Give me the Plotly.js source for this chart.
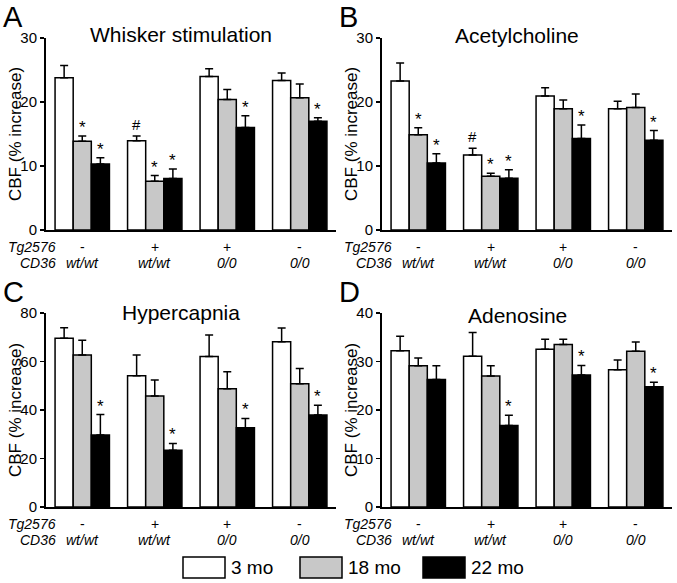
<!DOCTYPE html>
<html>
<head>
<meta charset="utf-8">
<script src="https://cdn.plot.ly/plotly-3.0.1.min.js"></script>
<style>html,body{margin:0;padding:0;background:#fff}#chart{width:677px;height:583px}</style>
</head>
<body>
<div id="chart"></div>
<script>
// ---- data ----
const tg2576 = ["-", "+", "+", "-"];
const cd36 = ["wt/wt", "wt/wt", "0/0", "0/0"];
const ages = ["3 mo", "18 mo", "22 mo"];
const panelTitles = ["Whisker stimulation", "Acetylcholine", "Hypercapnia", "Adenosine"];
const panelLetters = ["A", "B", "C", "D"];

// means: [3 mo, 18 mo, 22 mo] x groups
const whiskerMean = [[23.8, 13.95, 24.0, 23.35], [13.85, 7.6, 20.4, 20.65], [10.3, 8.05, 16.0, 17.0]];
const whiskerErr  = [[1.9, 0.75, 1.2, 1.2], [0.85, 0.9, 1.55, 2.15], [1.0, 1.5, 1.85, 0.55]];
const whiskerSig  = [["", "#", "", ""], ["*", "*", "", ""], ["*", "*", "*", "*"]];

const achMean = [[23.3, 11.73, 20.94, 18.95], [14.87, 8.38, 18.95, 19.16], [10.47, 8.1, 14.29, 14.03]];
const achErr  = [[2.8, 1.05, 1.3, 1.15], [1.1, 0.5, 1.35, 2.1], [1.45, 1.3, 2.1, 1.5]];
const achSig  = [["", "#", "", ""], ["*", "*", "", ""], ["*", "*", "*", "*"]];

const hyperMean = [[69.6, 54.1, 62.1, 68.1], [62.7, 45.8, 48.8, 50.8], [29.7, 23.4, 32.7, 37.9]];
const hyperErr  = [[4.3, 8.6, 8.8, 5.7], [6.1, 6.6, 7.0, 6.3], [8.4, 2.8, 3.8, 4.1]];
const hyperSig  = [["", "", "", ""], ["", "", "", ""], ["*", "*", "*", "*"]];

const adenoMean = [[32.2, 31.1, 32.5, 28.3], [29.1, 27.0, 33.5, 32.1], [26.3, 16.8, 27.2, 24.8]];
const adenoErr  = [[3.0, 4.9, 2.1, 2.0], [1.6, 2.1, 1.1, 1.9], [2.8, 2.1, 2.0, 0.9]];
const adenoSig  = [["", "", "", ""], ["", "", "", ""], ["", "*", "*", "*"]];

const yTicksAB = [0, 10, 20, 30];
const yTicksC = [0, 20, 40, 60, 80];
const yTicksD = [0, 10, 20, 30, 40];

// ---- layout / style ----
const W = 677, H = 583;
const FONT = "Liberation Sans, Arial, Helvetica, sans-serif";
const px = x => x / W;
const py = y => 1 - y / H;
const fills = ["#ffffff", "#c8c8c8", "#000000"];

const means = [whiskerMean, achMean, hyperMean, adenoMean];
const errs = [whiskerErr, achErr, hyperErr, adenoErr];
const sigs = [whiskerSig, achSig, hyperSig, adenoSig];
const yticks = [yTicksAB, yTicksAB, yTicksC, yTicksD];
const boxes = [
  {x: [46, 336], y: [38, 230], t: -4},
  {x: [382, 672], y: [38, 230], t: -3},
  {x: [46, 336], y: [313, 507], t: -1},
  {x: [382, 672], y: [313, 507], t: 2}
];

const traces = [];
const layout = {
  width: W, height: H,
  margin: {l: 0, r: 0, t: 0, b: 0},
  paper_bgcolor: "#fff", plot_bgcolor: "rgba(0,0,0,0)",
  showlegend: false,
  barmode: "group", bargap: 0.25, bargroupgap: 0,
  font: {family: FONT, color: "#000"},
  annotations: [], shapes: []
};

const groupX = tg2576.map((_, i) => i);

for (let p = 0; p < 4; p++) {
  const xa = p === 0 ? "x" : "x" + (p + 1);
  const ya = p === 0 ? "y" : "y" + (p + 1);
  const xk = p === 0 ? "xaxis" : "xaxis" + (p + 1);
  const yk = p === 0 ? "yaxis" : "yaxis" + (p + 1);
  const b = boxes[p];
  const tk = yticks[p];
  layout[xk] = {
    domain: [px(b.x[0]), px(b.x[1])], anchor: ya,
    range: [-0.5, groupX.length - 0.5],
    showline: true, linewidth: 2, linecolor: "#000",
    ticks: "", showticklabels: false, showgrid: false, zeroline: false, fixedrange: true
  };
  layout[yk] = {
    domain: [py(b.y[1]), py(b.y[0])], anchor: xa,
    range: [0, tk[tk.length - 1]],
    tickvals: tk, ticktext: tk.map(String),
    showline: true, linewidth: 2, linecolor: "#000",
    ticks: "outside", ticklen: 4, tickwidth: 1.5, tickcolor: "#000",
    tickfont: {size: 15, family: FONT, color: "#000"},
    showgrid: false, zeroline: false, fixedrange: true
  };
  for (let s = 0; s < 3; s++) {
    traces.push({
      type: "bar", x: groupX, y: means[p][s], name: ages[s],
      xaxis: xa, yaxis: ya,
      marker: {color: fills[s], line: {color: "#000", width: 1.5}},
      error_y: {type: "data", array: errs[p][s], arrayminus: means[p][s].map(() => 0),
                symmetric: false, visible: true, color: "#000", thickness: 1.5, width: 4},
      hoverinfo: "skip"
    });
    sigs[p][s].forEach((mk, g) => {
      if (!mk) return;
      layout.annotations.push({
        xref: xa, yref: ya, x: g + (s - 1) * 0.25, y: means[p][s][g] + errs[p][s][g],
        text: mk, showarrow: false, xanchor: "center", yanchor: "bottom",
        yshift: mk === "*" ? -2 : 2, borderpad: 0,
        font: {size: mk === "*" ? 17 : 15, family: FONT, color: "#000"}
      });
    });
  }
  // panel letter
  layout.annotations.push({
    xref: "paper", yref: "paper", x: px(b.x[0] - 45), y: py(b.y[0] - 21),
    text: panelLetters[p], showarrow: false, xanchor: "left", yanchor: "middle",
    font: {size: 29, family: FONT, color: "#000"}
  });
  // panel title
  layout.annotations.push({
    xref: "paper", yref: "paper", x: px((b.x[0] + b.x[1]) / 2 - 10), y: py(b.y[0] + b.t),
    text: panelTitles[p], showarrow: false, xanchor: "center", yanchor: "middle",
    font: {size: 21, family: FONT, color: "#000"}
  });
  // y axis title
  layout.annotations.push({
    xref: "paper", yref: "paper", x: px(b.x[0] - 31), y: py((b.y[0] + b.y[1]) / 2),
    text: "CBF (% increase)", showarrow: false, textangle: -90,
    xanchor: "center", yanchor: "middle",
    font: {size: 17, family: FONT, color: "#000"}
  });
  // row labels
  const rowY = [b.y[1] + 17, b.y[1] + 33];
  layout.annotations.push({
    xref: xa, yref: "paper", x: -0.35, y: py(rowY[0]),
    text: "<i>Tg2576</i>", showarrow: false, xanchor: "right", yanchor: "middle", borderpad: 0,
    font: {size: 14, family: FONT, color: "#000"}
  });
  layout.annotations.push({
    xref: xa, yref: "paper", x: -0.35, y: py(rowY[1]),
    text: "<i>CD36</i>", showarrow: false, xanchor: "right", yanchor: "middle", borderpad: 0,
    font: {size: 14, family: FONT, color: "#000"}
  });
  groupX.forEach(g => {
    layout.annotations.push({
      xref: xa, yref: "paper", x: g, y: py(rowY[0]),
      text: tg2576[g], showarrow: false, xanchor: "center", yanchor: "middle", borderpad: 0,
      font: {size: 14, family: FONT, color: "#000"}
    });
    layout.annotations.push({
      xref: xa, yref: "paper", x: g, y: py(rowY[1]),
      text: "<i>" + cd36[g] + "</i>", showarrow: false, xanchor: "center", yanchor: "middle", borderpad: 0,
      font: {size: 14, family: FONT, color: "#000"}
    });
  });
}

// custom legend
const legBoxX = [183, 300, 423];
ages.forEach((a, i) => {
  layout.shapes.push({
    type: "rect", xref: "paper", yref: "paper",
    x0: px(legBoxX[i]), x1: px(legBoxX[i] + 42), y0: py(578), y1: py(557),
    fillcolor: fills[i], line: {color: "#000", width: 1.5}
  });
  layout.annotations.push({
    xref: "paper", yref: "paper", x: px(legBoxX[i] + 46), y: py(567.5),
    text: a, showarrow: false, xanchor: "left", yanchor: "middle",
    font: {size: 19, family: FONT, color: "#000"}
  });
});

Plotly.newPlot("chart", traces, layout, {staticPlot: true, displayModeBar: false});
</script>
</body>
</html>
